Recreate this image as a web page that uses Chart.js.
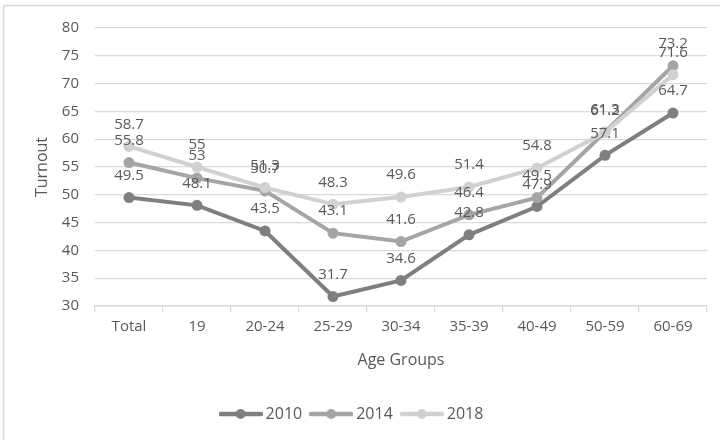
<!DOCTYPE html>
<html lang="en">
<head>
    <meta charset="UTF-8">
    <title>Turnout by Age Group</title>
    <style>
        body {
            margin: 0;
            padding: 0;
            background-color: #ffffff;
        }

        .chart-box {
            position: relative;
            width: 720px;
            height: 440px;
        }
    </style>
</head>
<body>
    <div class="chart-box">
        <canvas id="turnout-chart" width="720" height="440"></canvas>
    </div>

    <script src="https://cdn.jsdelivr.net/npm/chart.js"></script>
    <script>
        const ageGroups = ['Total', '19', '20-24', '25-29', '30-34', '35-39', '40-49', '50-59', '60-69'];
        const turnout2010 = [49.5, 48.1, 43.5, 31.7, 34.6, 42.8, 47.9, 57.1, 64.7];
        const turnout2014 = [55.8, 53, 50.7, 43.1, 41.6, 46.4, 49.5, 61.3, 73.2];
        const turnout2018 = [58.7, 55, 51.3, 48.3, 49.6, 51.4, 54.8, 61.2, 71.6];

        const textColor = '#595959';
        const gridColor = '#d9d9d9';
        const fontFamily = '"Open Sans", "Liberation Sans", sans-serif';

        // legend symbol: short thick line with a dot in the middle
        function legendSymbol(color) {
            const c = document.createElement('canvas');
            c.width = 44;
            c.height = 12;
            const g = c.getContext('2d');
            g.strokeStyle = color;
            g.lineWidth = 4.5;
            g.lineCap = 'round';
            g.beginPath();
            g.moveTo(2, 6);
            g.lineTo(42, 6);
            g.stroke();
            g.fillStyle = color;
            g.beginPath();
            g.arc(22, 6, 5, 0, Math.PI * 2);
            g.fill();
            return c;
        }

        function series(label, data, color, order) {
            return {
                label: label,
                data: data,
                borderColor: color,
                backgroundColor: color,
                borderWidth: 4,
                pointRadius: 5.5,
                pointStyle: 'circle',
                pointBackgroundColor: color,
                pointBorderWidth: 0,
                legendStyle: legendSymbol(color),
                tension: 0,
                order: order
            };
        }

        // value labels above every point
        const valueLabels = {
            id: 'valueLabels',
            afterDatasetsDraw(chart) {
                const ctx = chart.ctx;
                ctx.save();
                ctx.font = '15px ' + fontFamily;
                ctx.fillStyle = textColor;
                ctx.textAlign = 'center';
                ctx.textBaseline = 'middle';
                chart.data.datasets.forEach((ds, i) => {
                    const meta = chart.getDatasetMeta(i);
                    meta.data.forEach((pt, j) => {
                        ctx.fillText(String(ds.data[j]), pt.x, pt.y - 22);
                    });
                });
                ctx.restore();
            }
        };

        // light frame around the chart
        const frame = {
            id: 'frame',
            beforeDraw(chart) {
                const ctx = chart.ctx;
                ctx.save();
                ctx.strokeStyle = gridColor;
                ctx.lineWidth = 1.5;
                ctx.strokeRect(3.5, 5.5, 730, 450);
                ctx.restore();
            }
        };

        // 2018 sits on top, 2010 underneath
        const datasets = [
            series('2010', turnout2010, '#7f7f7f', 2),
            series('2014', turnout2014, '#a5a5a5', 1),
            series('2018', turnout2018, '#d1d1d1', 0)
        ];

        new Chart(document.getElementById('turnout-chart').getContext('2d'), {
            type: 'line',
            data: { labels: ageGroups, datasets: datasets },
            options: {
                responsive: false,
                animation: false,
                layout: { padding: { top: 28, right: 13, bottom: 8, left: 0 } },
                plugins: {
                    tooltip: { enabled: false },
                    legend: {
                        position: 'bottom',
                        labels: {
                            color: textColor,
                            font: { family: fontFamily, size: 16 },
                            usePointStyle: true,
                            pointStyleWidth: 34,
                            padding: 12,
                            generateLabels(chart) {
                                return chart.data.datasets.map((ds, i) => ({
                                    text: ds.label,
                                    fillStyle: ds.borderColor,
                                    strokeStyle: ds.borderColor,
                                    fontColor: textColor,
                                    lineWidth: 0,
                                    pointStyle: ds.legendStyle,
                                    hidden: false,
                                    datasetIndex: i
                                }));
                            }
                        }
                    }
                },
                scales: {
                    x: {
                        offset: true,
                        grid: {
                            offset: true,
                            drawOnChartArea: false,
                            drawTicks: true,
                            tickLength: 6,
                            color: gridColor,
                            lineWidth: 1.3
                        },
                        border: { color: gridColor, width: 1.5 },
                        ticks: {
                            color: textColor,
                            font: { family: fontFamily, size: 15 },
                            padding: 6,
                            maxRotation: 0
                        },
                        title: {
                            display: true,
                            text: 'Age Groups',
                            color: textColor,
                            font: { family: fontFamily, size: 16 },
                            padding: { top: 10, bottom: 24 }
                        },
                        afterFit(scale) {
                            scale.height = 88;
                        }
                    },
                    y: {
                        min: 30,
                        max: 80,
                        ticks: {
                            stepSize: 5,
                            color: textColor,
                            font: { family: fontFamily, size: 15 },
                            padding: 16
                        },
                        grid: {
                            color: gridColor,
                            lineWidth: 1.3,
                            drawTicks: false
                        },
                        border: { display: false },
                        title: {
                            display: true,
                            text: 'Turnout',
                            color: textColor,
                            font: { family: fontFamily, size: 16 },
                            padding: { top: 33, bottom: 0 }
                        },
                        afterFit(scale) {
                            scale.width = 95;
                        }
                    }
                }
            },
            plugins: [frame, valueLabels]
        });
    </script>
</body>
</html>
